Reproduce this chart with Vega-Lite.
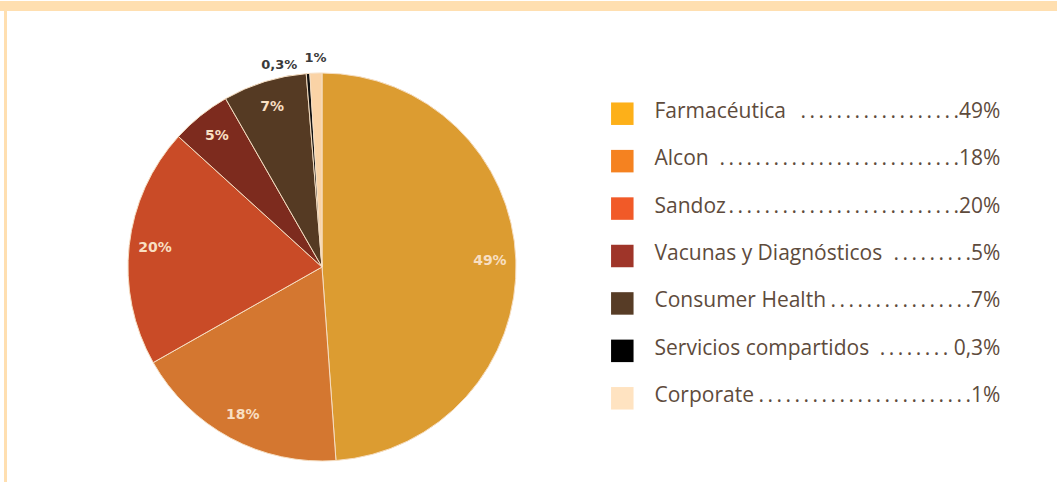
{
  "$schema": "https://vega.github.io/schema/vega-lite/v6.json",
  "padding": 0,
  "background": "white",
  "spacing": 0,
  "bounds": "full",
  "config": {"view": {"stroke": null}, "concat": {"spacing": 0}},
  "datasets": {
    "segmentos": [
      {"segmento": "Farmacéutica", "valor": 49, "etiqueta": "49%", "orden": 1, "leyenda": ".\u2009.\u2009.\u2009.\u2009.\u2009.\u2009.\u2009.\u2009.\u2009.\u2009.\u2009.\u2009.\u2009.\u2009.\u2009.\u2009.\u2009.49%"},
      {"segmento": "Alcon", "valor": 18, "etiqueta": "18%", "orden": 2, "leyenda": ".\u2009.\u2009.\u2009.\u2009.\u2009.\u2009.\u2009.\u2009.\u2009.\u2009.\u2009.\u2009.\u2009.\u2009.\u2009.\u2009.\u2009.\u2009.\u2009.\u2009.\u2009.\u2009.\u2009.\u2009.\u2009.\u2009.18%"},
      {"segmento": "Sandoz", "valor": 20, "etiqueta": "20%", "orden": 3, "leyenda": ".\u2009.\u2009.\u2009.\u2009.\u2009.\u2009.\u2009.\u2009.\u2009.\u2009.\u2009.\u2009.\u2009.\u2009.\u2009.\u2009.\u2009.\u2009.\u2009.\u2009.\u2009.\u2009.\u2009.\u2009.\u2009.20%"},
      {"segmento": "Vacunas y Diagnósticos", "valor": 5, "etiqueta": "5%", "orden": 4, "leyenda": ".\u2009.\u2009.\u2009.\u2009.\u2009.\u2009.\u2009.\u2009.5%"},
      {"segmento": "Consumer Health", "valor": 7, "etiqueta": "7%", "orden": 5, "leyenda": ".\u2009.\u2009.\u2009.\u2009.\u2009.\u2009.\u2009.\u2009.\u2009.\u2009.\u2009.\u2009.\u2009.\u2009.\u2009.7%"},
      {"segmento": "Servicios compartidos", "valor": 0.3, "etiqueta": "0,3%", "orden": 6, "leyenda": ".\u2009.\u2009.\u2009.\u2009.\u2009.\u2009.\u2009. 0,3%"},
      {"segmento": "Corporate", "valor": 1, "etiqueta": "1%", "orden": 7, "leyenda": ".\u2009.\u2009.\u2009.\u2009.\u2009.\u2009.\u2009.\u2009.\u2009.\u2009.\u2009.\u2009.\u2009.\u2009.\u2009.\u2009.\u2009.\u2009.\u2009.\u2009.\u2009.\u2009.\u2009.1%"}
    ]
  },
  "vconcat": [
    {
      "width": 1057, "height": 10,
      "view": {"fill": "#FFDFB0", "stroke": null},
      "data": {"values": [{}]},
      "mark": "text",
      "encoding": {}
    },
    {
      "spacing": 0,
      "bounds": "full",
      "hconcat": [
        {"width": 4, "height": 472, "data": {"values": [{}]}, "mark": "text", "encoding": {}},
        {"width": 3, "height": 472, "view": {"fill": "#FFDFB0", "stroke": null}, "data": {"values": [{}]}, "mark": "text", "encoding": {}},
        {"width": 26, "height": 472, "data": {"values": [{}]}, "mark": "text", "encoding": {}},
        {
          "spacing": 0,
          "bounds": "full",
          "vconcat": [
            {"width": 578, "height": 40, "data": {"values": [{}]}, "mark": "text", "encoding": {}},
            {
              "width": 578, "height": 432,
              "data": {"name": "segmentos"},
              "encoding": {
                "theta": {"field": "valor", "type": "quantitative", "stack": true},
                "order": {"field": "orden", "type": "quantitative"},
                "detail": {"field": "segmento", "type": "nominal"}
              },
              "layer": [
                {
                  "mark": {"type": "arc", "outerRadius": 194, "stroke": "#F6DEC2", "strokeWidth": 1},
                  "encoding": {
                    "color": {
                      "field": "segmento", "type": "nominal", "legend": null,
                      "scale": {
                        "domain": ["Farmacéutica", "Alcon", "Sandoz", "Vacunas y Diagnósticos", "Consumer Health", "Servicios compartidos", "Corporate"],
                        "range": ["#DC9C31", "#D47730", "#C94B27", "#7D2B1E", "#553A23", "#111111", "#FAD3A6"]
                      }
                    }
                  }
                },
                {
                  "mark": {"type": "text", "radius": 168, "font": "DejaVu Sans", "fontWeight": "bold", "fontSize": 14, "fill": "#F8DFC2", "baseline": "middle", "align": "center"},
                  "encoding": {"text": {"condition": {"test": "datum.valor >= 5", "field": "etiqueta"}, "value": ""}}
                },
                {
                  "mark": {"type": "text", "radius": 209.5, "font": "DejaVu Sans", "fontWeight": "bold", "fontSize": 13, "fill": "#3A3A3A", "baseline": "middle", "align": "center"},
                  "encoding": {"text": {"condition": {"test": "datum.segmento === 'Corporate'", "field": "etiqueta"}, "value": ""}}
                },
                {
                  "mark": {"type": "text", "radius": 203, "font": "DejaVu Sans", "fontWeight": "bold", "fontSize": 13, "fill": "#3A3A3A", "baseline": "middle", "align": "right", "dx": -10},
                  "encoding": {"text": {"condition": {"test": "datum.segmento === 'Servicios compartidos'", "field": "etiqueta"}, "value": ""}}
                }
              ]
            }
          ]
        },
        {
          "spacing": 0,
          "bounds": "full",
          "vconcat": [
            {"width": 446, "height": 79, "data": {"values": [{}]}, "mark": "text", "encoding": {}},
            {
              "width": 446, "height": 332,
              "data": {"name": "segmentos"},
              "encoding": {
                "y": {
                  "field": "segmento", "type": "nominal", "axis": null,
                  "sort": ["Farmacéutica", "Alcon", "Sandoz", "Vacunas y Diagnósticos", "Consumer Health", "Servicios compartidos", "Corporate"],
                  "scale": {"type": "point", "padding": 0.5}
                }
              },
              "layer": [
                {
                  "mark": {"type": "point", "shape": "square", "filled": true, "size": 506, "opacity": 1, "strokeWidth": 0},
                  "encoding": {
                    "x": {"datum": 2.31, "type": "quantitative", "scale": {"domain": [0, 100]}, "axis": null},
                    "fill": {
                      "field": "segmento", "type": "nominal", "legend": null,
                      "scale": {
                        "domain": ["Farmacéutica", "Alcon", "Sandoz", "Vacunas y Diagnósticos", "Consumer Health", "Servicios compartidos", "Corporate"],
                        "range": ["#FDB019", "#F58220", "#F15A28", "#9F3529", "#573C26", "#000000", "#FFE3C1"]
                      }
                    }
                  }
                },
                {
                  "mark": {"type": "text", "align": "left", "baseline": "alphabetic", "dy": 4, "font": "Open Sans", "fontSize": 21, "fontWeight": 400, "fill": "#5E4B3C"},
                  "encoding": {
                    "x": {"datum": 9.53, "type": "quantitative", "scale": {"domain": [0, 100]}, "axis": null},
                    "text": {"field": "segmento"}
                  }
                },
                {
                  "mark": {"type": "text", "align": "right", "baseline": "alphabetic", "dy": 4, "font": "Open Sans", "fontSize": 21, "fontWeight": 400, "fill": "#5E4B3C"},
                  "encoding": {
                    "x": {"datum": 87.1, "type": "quantitative", "scale": {"domain": [0, 100]}, "axis": null},
                    "text": {"field": "leyenda"}
                  }
                }
              ]
            }
          ]
        }
      ]
    }
  ]
}
